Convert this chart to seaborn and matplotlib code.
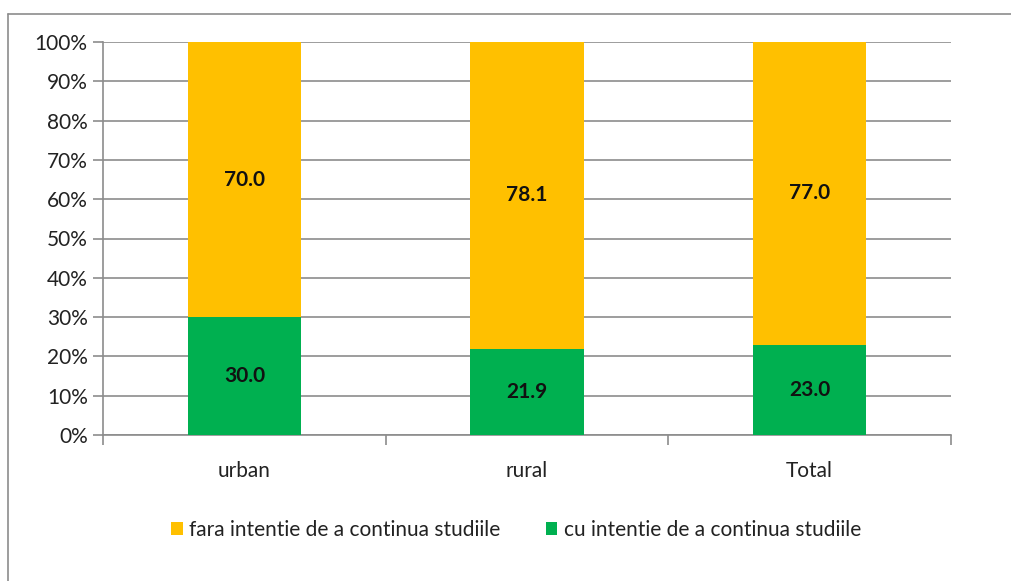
import matplotlib
matplotlib.use("Agg")
import matplotlib.pyplot as plt
import seaborn as sns
import pandas as pd
from matplotlib.lines import Line2D
from matplotlib.patches import Patch

categories = ["urban", "rural", "Total"]
cu_intentie = [30.0, 21.9, 23.0]
fara_intentie = [70.0, 78.1, 77.0]
series_names = ["fara intentie de a continua studiile", "cu intentie de a continua studiile"]
yticks = [0, 10, 20, 30, 40, 50, 60, 70, 80, 90, 100]

sns.set_theme(style="white")
plt.rcParams['font.family'] = ['Lato', 'DejaVu Sans']

YELLOW = "#FFC000"
GREEN = "#00B050"
GRID = "#8C8C8C"
TXT = "#222222"

fig = plt.figure(figsize=(10.11, 5.81), dpi=100)
ax = fig.add_axes([103/1011, 1 - 435/581, (951-103)/1011, (435-42)/581])

df = pd.DataFrame({"cat": categories, "cu": cu_intentie, "fara": fara_intentie})

sns.barplot(data=df, x="cat", y="cu", color=GREEN, width=0.4, ax=ax, saturation=1,
            linewidth=0, edgecolor="none", zorder=3)
sns.barplot(data=df, x="cat", y="fara", color=YELLOW, width=0.4, ax=ax, saturation=1,
            linewidth=0, edgecolor="none", bottom=df["cu"].values, zorder=3)

for i, (c, f) in enumerate(zip(cu_intentie, fara_intentie)):
    ax.text(i, c / 2, f"{c:.1f}", ha="center", va="center", fontsize=15, fontweight="bold",
            color="#111111", zorder=4)
    ax.text(i, c + f / 2, f"{f:.1f}", ha="center", va="center", fontsize=15, fontweight="bold",
            color="#111111", zorder=4)

ax.set_xlim(-0.5, 2.5)
ax.set_ylim(0, 100)
ax.set_yticks(yticks)
ax.set_yticklabels([f"{v}%" for v in yticks])
ax.set_xlabel("")
ax.set_ylabel("")
ax.yaxis.grid(True, color=GRID, linewidth=1.2, zorder=0)
ax.set_axisbelow(True)

for s in ["top", "right"]:
    ax.spines[s].set_visible(False)
ax.spines["left"].set_color(GRID)
ax.spines["bottom"].set_color(GRID)
ax.spines["left"].set_linewidth(1.2)
ax.spines["bottom"].set_linewidth(1.2)

ax.tick_params(axis="y", which="major", left=True, length=7, width=1.2, color=GRID,
               labelsize=15, labelcolor=TXT, pad=4)
ax.set_xticks([0, 1, 2])
ax.set_xticklabels(categories)
ax.tick_params(axis="x", which="major", bottom=False, labelsize=15, labelcolor=TXT, pad=13)
ax.set_xticks([-0.5, 0.5, 1.5, 2.5], minor=True)
ax.tick_params(axis="x", which="minor", bottom=True, length=7, width=1.2, color=GRID)

handles = [Patch(facecolor=YELLOW, edgecolor="none"), Patch(facecolor=GREEN, edgecolor="none")]
fig.legend(handles, series_names, loc="center", bbox_to_anchor=(516/1011, 1 - 530/581),
           ncol=2, frameon=False, fontsize=15, handlelength=0.55, handleheight=0.55,
           handletextpad=0.3, columnspacing=2.2, labelcolor=TXT)

# outer chart border
fig.add_artist(Line2D([8/1011, 8/1011], [0, 1 - 14/581], transform=fig.transFigure,
                      color="#8C8C8C", linewidth=1.2))
fig.add_artist(Line2D([8/1011, 1], [1 - 14/581, 1 - 14/581], transform=fig.transFigure,
                      color="#8C8C8C", linewidth=1.2))

fig.savefig("out.png", dpi=100, facecolor="white")
